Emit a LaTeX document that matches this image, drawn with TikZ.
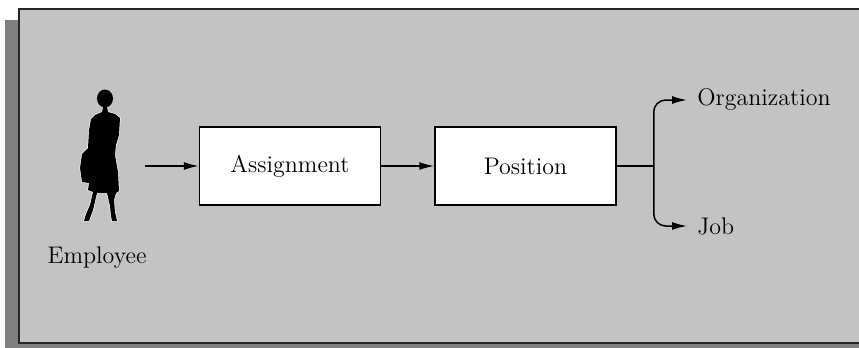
\documentclass[tikz,border=0pt]{standalone}
\usepackage{tikz}
\usetikzlibrary{positioning}
\usetikzlibrary{arrows.meta}
\definecolor{panelgray}{RGB}{195,195,195}
\definecolor{shadowgray}{RGB}{128,128,128}
\newcommand{\mytext}{\fontsize{12}{14}\selectfont}

\begin{document}
\begin{tikzpicture}
			[
				x = 0.5pt, y = -0.5pt,
				myblock/.style = {draw, rectangle, line width = 0.75pt, fill = white, minimum height = 39pt, minimum width = 90.5pt, font = \mytext},
				mylabel/.style = {font = \mytext, inner ysep = 0pt, inner xsep = 5pt},
				myline/.style = {line width = 0.75pt},
				myarrow/.style = {line width = 0.75pt, rounded corners = 6pt, -{Latex[length = 7.5pt, width = 4pt]}}
			]
			%
			\useasboundingbox (0,0) rectangle (859,348);
			\clip (0,0) rectangle (859,348);
			\fill [shadowgray] (5,20) rectangle (880,360);
			\draw [fill = panelgray, line width = 1pt, draw = black!85] (19,9) rectangle (880,343);
			%
			% employee
			\fill [black, preaction = {draw = white, line width = 0.6pt}]
				(103,107) -- (102,112) -- (95,115) -- (91,119) -- (89,130) -- (88,148) -- (82,154) -- (80,168) -- (82,182)
				-- (89,183) -- (88,190) -- (93,192) -- (90,205) -- (86,214) -- (84,221) -- (89,221) -- (93,210) -- (97,193)
				-- (107,193) -- (110,206) -- (111,216) -- (112,221) -- (117,221) -- (115,212) -- (114,200) -- (116,193)
				-- (119,191) -- (118,172) -- (115,155) -- (116,145) -- (119,135) -- (120,118) -- (115,114) -- (108,112) -- (107,107) -- cycle;
			\fill [black] (105,98.5) ellipse [x radius = 4pt, y radius = 4.5pt];
			\node (employee) [mylabel] at (97,258) {Employee};
			\coordinate (start) at (145,166);
			%
			\node (assignment) [myblock] at (290,166) {Assignment};
			\draw [myarrow] (start) -- (assignment);
			%
			\node (position) [myblock, right = 26.5pt of assignment] {Position};
			\draw [myarrow] (assignment) -- (position);
			%
			\coordinate [right = 18.5pt of position.east] (branch);
			\draw [myline] (position) -- (branch);
			%
			\node (organization) [mylabel, anchor = west] at (687,100) {Organization};
			\draw [myarrow] (branch) |- (organization);
			%
			\node (job) [mylabel, anchor = west] at (687,226) {Job};
			\draw [myarrow] (branch) |- (job);
			%
		\end{tikzpicture}
\end{document}
